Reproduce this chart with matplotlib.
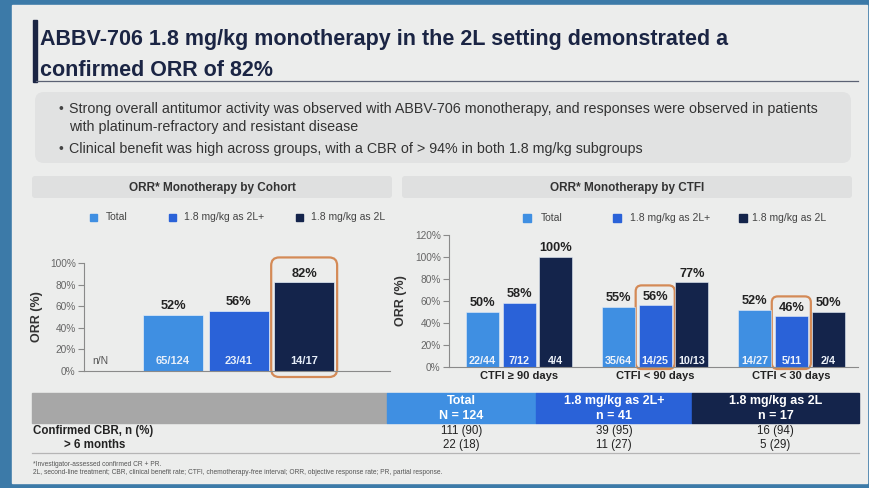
import numpy as np
import matplotlib
matplotlib.use("Agg")
import matplotlib.pyplot as plt
from matplotlib.patches import Rectangle, FancyBboxPatch

plt.rcParams['font.family'] = ['Liberation Sans', 'DejaVu Sans']

# ---- data ----
series_names = ['Total', '1.8 mg/kg as 2L+', '1.8 mg/kg as 2L']
series_colors = ['#3f8fe2', '#2a62d8', '#14244b']

cohort_orr = [52, 56, 82]
cohort_nn = ['65/124', '23/41', '14/17']

ctfi_groups = ['CTFI \u2265 90 days', 'CTFI < 90 days', 'CTFI < 30 days']
ctfi_total = [50, 55, 52]
ctfi_2l_plus = [58, 56, 46]
ctfi_2l = [100, 77, 50]
ctfi_nn_total = ['22/44', '35/64', '14/27']
ctfi_nn_2l_plus = ['7/12', '14/25', '5/11']
ctfi_nn_2l = ['4/4', '10/13', '2/4']

table_headers = ['Total\nN = 124', '1.8 mg/kg as 2L+\nn = 41', '1.8 mg/kg as 2L\nn = 17']
table_rows = ['Confirmed CBR, n (%)', '> 6 months']
cbr_confirmed = ['111 (90)', '39 (95)', '16 (94)']
cbr_6_months = ['22 (18)', '11 (27)', '5 (29)']

title = ("ABBV-706 1.8 mg/kg monotherapy in the 2L setting demonstrated a\n"
         "confirmed ORR of 82%")
bullets = ["Strong overall antitumor activity was observed with ABBV-706 monotherapy, and responses were observed in patients\nwith platinum-refractory and resistant disease",
           "Clinical benefit was high across groups, with a CBR of > 94% in both 1.8 mg/kg subgroups"]
footnotes = ["*Investigator-assessed confirmed CR + PR.",
             "2L, second-line treatment; CBR, clinical benefit rate; CTFI, chemotherapy-free interval; ORR, objective response rate; PR, partial response."]

W, H = 870, 488
NAVY = '#1b2544'
ORANGE = '#d48a56'
TXT = '#222222'

fig = plt.figure(figsize=(W / 100, H / 100), dpi=100)
fig.patch.set_facecolor('#3c7aa8')

# background axes in pixel coords (y down)
bg = fig.add_axes([0, 0, 1, 1])
bg.set_xlim(0, W)
bg.set_ylim(H, 0)
bg.axis('off')

def px_rect(x0, y0, x1, y1):
    return [x0 / W, 1 - y1 / H, (x1 - x0) / W, (y1 - y0) / H]

# slide
bg.add_patch(Rectangle((12, 5), 855, 478, color='#ecedec', zorder=0))

# title
bg.add_patch(Rectangle((33, 20), 4.5, 62, color=NAVY, zorder=2))
bg.plot([36, 858], [81, 81], color='#5b6274', lw=0.9, zorder=2)
bg.text(40, 55, title, fontsize=15.5, fontweight='bold', color=NAVY,
        va='center', ha='left', linespacing=1.58, zorder=3)

# bullet box
bg.add_patch(FancyBboxPatch((35, 92), 816, 71, boxstyle='round,pad=0,rounding_size=9',
                            fc='#e1e2e2', ec='none', zorder=1))
bg.text(59, 109, '\u2022', fontsize=10, color='#444', va='center')
bg.text(69, 118, bullets[0], fontsize=10.25, color='#333', va='center', linespacing=1.3)
bg.text(59, 149, '\u2022', fontsize=10, color='#444', va='center')
bg.text(69, 149, bullets[1], fontsize=10.25, color='#333', va='center')

# panel headers
for x0, x1, label in [(32, 392, 'ORR* Monotherapy by Cohort'),
                      (402, 852, 'ORR* Monotherapy by CTFI')]:
    bg.add_patch(FancyBboxPatch((x0, 176), x1 - x0, 22, boxstyle='round,pad=0,rounding_size=3',
                                fc='#dfe0e0', ec='none', zorder=1))
    bg.text((x0 + x1) / 2, 187.5, label, fontsize=8.5, fontweight='bold', color='#333',
            ha='center', va='center')


def legend_row(key_x, text_x, y, size):
    for kx, tx, name, col in zip(key_x, text_x, series_names, series_colors):
        bg.add_patch(Rectangle((kx, y - size / 2), size, size, color=col, zorder=2))
        bg.text(tx, y, name, fontsize=7.5, color='#444', va='center', ha='left')


def style_axis(ax, ymax):
    ax.set_facecolor('none')
    for s in ['top', 'right']:
        ax.spines[s].set_visible(False)
    for s in ['left', 'bottom']:
        ax.spines[s].set_color('#8a8a8a')
        ax.spines[s].set_linewidth(0.8)
    ax.set_ylim(0, ymax)
    ax.set_yticks(np.arange(0, ymax + 1, 20))
    ax.set_yticklabels([f'{v}%' for v in range(0, ymax + 1, 20)])
    ax.tick_params(axis='y', length=4, width=0.8, color='#8a8a8a', labelsize=7.3,
                   labelcolor='#666', pad=2)
    ax.set_ylabel('ORR (%)', fontsize=9, fontweight='bold', color='#333')


def highlight(ax, xl, xr, top_val, top_pad, bot_pad, r):
    inv = bg.transData.inverted()
    (x0, y0) = inv.transform(ax.transData.transform((xl, top_val)))
    (x1, y1) = inv.transform(ax.transData.transform((xr, 0)))
    x0 -= 3
    x1 += 3
    y0 -= top_pad
    y1 += bot_pad
    bg.add_patch(FancyBboxPatch((x0, y0), x1 - x0, y1 - y0,
                                boxstyle=f'round,pad=0,rounding_size={r}',
                                fc='none', ec=ORANGE, lw=1.6, zorder=5))


# ---- left chart ----
axl = fig.add_axes(px_rect(84, 263, 390, 371))
style_axis(axl, 100)
xl = np.arange(3)
bw = 0.915
bars_l = axl.bar(xl, cohort_orr, width=bw, color=series_colors, edgecolor='#e4edf8', lw=0.5)
axl.set_xlim(-1.36, 3.31)
axl.set_xticks([])
axl.yaxis.set_label_coords(-0.134, 0.5)
for x, v, nn in zip(xl, cohort_orr, cohort_nn):
    axl.annotate(f'{v}%', (x, v), xytext=(0, 2), textcoords='offset points',
                 ha='center', va='bottom', fontsize=9.2, fontweight='bold', color=TXT)
    axl.annotate(nn, (x, 0), xytext=(0, 7), textcoords='offset points',
                 ha='center', va='center', fontsize=8, fontweight='bold', color='#e6eef9')
axl.annotate('n/N', (-1.24, 0), xytext=(0, 7), textcoords='offset points',
             ha='left', va='center', fontsize=7.5, color='#555')
legend_row([90, 169, 296], [106, 184, 311], 217, 7)
highlight(axl, xl[2] - bw / 2, xl[2] + bw / 2, cohort_orr[2], 25, 6, 8)

# ---- right chart ----
axr = fig.add_axes(px_rect(449, 235, 858, 367))
style_axis(axr, 120)
xg = np.arange(3)
pitch = 0.27
bwr = 0.243
series_vals = [ctfi_total, ctfi_2l_plus, ctfi_2l]
series_nn = [ctfi_nn_total, ctfi_nn_2l_plus, ctfi_nn_2l]
for i, (vals, nns) in enumerate(zip(series_vals, series_nn)):
    xs = xg + (i - 1) * pitch
    axr.bar(xs, vals, width=bwr, color=series_colors[i], edgecolor='#e4edf8', lw=0.4,
            label=series_names[i])
    for x, v, nn in zip(xs, vals, nns):
        axr.annotate(f'{v}%', (x, v), xytext=(0, 2), textcoords='offset points',
                     ha='center', va='bottom', fontsize=9.2, fontweight='bold', color=TXT)
        axr.annotate(nn, (x, 0), xytext=(0, 4.5), textcoords='offset points',
                     ha='center', va='center', fontsize=7.8, fontweight='bold', color='#eef3fa')
axr.set_xlim(-0.515, 2.49)
axr.set_xticks(xg)
axr.set_xticklabels(ctfi_groups, fontsize=8, fontweight='bold', color=TXT)
axr.tick_params(axis='x', length=0, pad=3)
axr.yaxis.set_label_coords(-0.103, 0.5)
legend_row([523, 613, 739], [541, 630, 752], 218, 8)
for g in [1, 2]:
    x = xg[g] + 0 * pitch
    highlight(axr, x - bwr / 2, x + bwr / 2, ctfi_2l_plus[g], 20, 2, 6)

# ---- table ----
col_edges = [387, 536, 692, 859]
bg.add_patch(Rectangle((32, 393), col_edges[0] - 32, 30, color='#a7a7a7', zorder=1))
for i, head in enumerate(table_headers):
    x0, x1 = col_edges[i], col_edges[i + 1]
    bg.add_patch(Rectangle((x0, 393), x1 - x0, 30, color=series_colors[i], zorder=1))
    cx = (x0 + x1) / 2
    bg.text(cx, 408.5, head, fontsize=9, fontweight='bold', color='white',
            ha='center', va='center', linespacing=1.25, zorder=2)
    bg.text(cx, 431, cbr_confirmed[i], fontsize=8.3, color=TXT, ha='center', va='center')
    bg.text(cx, 445, cbr_6_months[i], fontsize=8.3, color=TXT, ha='center', va='center')
bg.text(33, 431, table_rows[0], fontsize=8.3, fontweight='bold', color=TXT, va='center')
bg.text(64, 445, table_rows[1], fontsize=8.3, fontweight='bold', color=TXT, va='center')
bg.plot([32, 859], [452.5, 452.5], color='#b5b5b5', lw=0.9)

bg.text(33, 464, footnotes[0], fontsize=4.8, color='#555', va='center')
bg.text(33, 472, footnotes[1], fontsize=4.8, color='#555', va='center')

fig.savefig('out.png', dpi=100, facecolor=fig.get_facecolor())
